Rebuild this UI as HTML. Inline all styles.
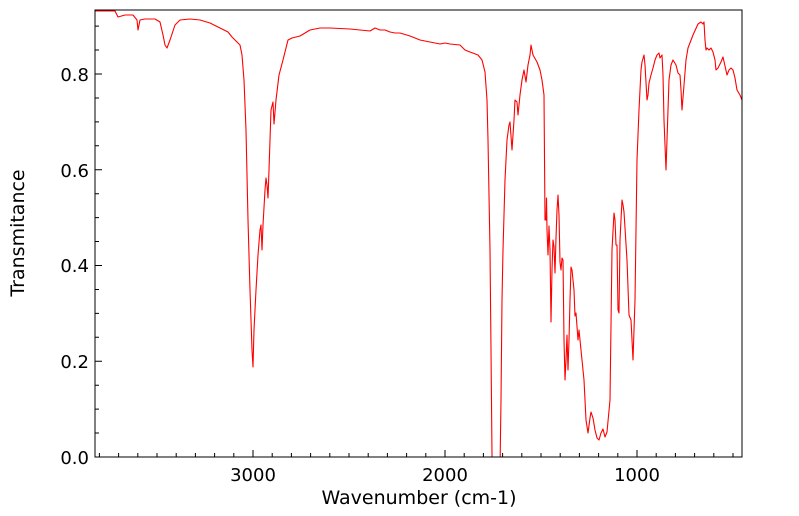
<!DOCTYPE html>
<html><head><style>body{margin:0;background:#fff}svg{display:block}</style></head><body>
<svg width="799" height="516" xmlns="http://www.w3.org/2000/svg" font-family="DejaVu Sans, Liberation Sans, sans-serif">
<rect x="0" y="0" width="799" height="516" fill="#fff"/>
<defs><clipPath id="c"><rect x="95" y="10" width="647" height="447"/></clipPath></defs>
<polyline clip-path="url(#c)" fill="none" stroke="#f00" stroke-width="1.1" stroke-linejoin="round" points="95,11 115,11 118,17 125,15 133,15 137,20 138,30 140,20 145,19 155,19 160,22 163,35 165,45 167,48 170,40 175,25 180,20 190,19 200,20 210,23 220,28 228,32 232,37 235,40 240,45 242,55 244,80 246,130 248,220 250,290 252,350 253,367 254,330 256,290 258,255 260,230 261,225 262,250 263,225 265,190 266,178 267,185 268,198 269,170 271,110 273,102 274,124 276,100 279,75 283,60 288,40 292,38 300,36 310,30 320,28 330,28 350,29 370,31 375,28 380,30 385,30 390,32 395,33 400,33 410,36 420,40 430,42 440,44 445,43 450,44 460,45 465,50 470,52 478,55 482,60 485,72 487,100 488,140 490,250 491,350 492,455 493,470 500,470 501,400 502,300 503,250 505,180 507,140 509,125 510,122 512,150 514,120 515,100 517,102 518,115 520,95 522,80 524,70 526,82 528,65 530,55 531,45 533,55 537,62 540,70 542,80 544,95 545,220 546,220 546.5,198 547,230 548,255 549,226 550,250 551,322 552,270 553,240 554,247 555,273 556,238 557,210 558,195 559,215 560,262 561,270 562,258 563,260 564,340 565,380 566,360 567,335 568,370 569,340 570,300 571,267 572,270 574,290 575,316 576,313 578,340 579,330 580,340 582,360 584,380 585,400 586,420 588,433 590,418 591,412 593,418 595,430 597,438 599,440 601,433 603,429 605,437 607,432 610,400 612,250 614,213 615,220 616,245 617,245 618,310 619,313 620,240 622,200 623,205 624,212 627,260 629,315 631,320 633,360 635,300 637,160 639,110 640,90 641,70 642,62 644,55 645,65 647,100 648,95 649,83 651,75 653,68 655,60 657,55 659,53 660,58 662,55 663,75 664,120 666,170 667,140 669,80 671,65 673,60 676,65 678,73 680,75 681,90 682,110 684,85 686,60 688,48 693,35 698,24 701,22 703,24 704,22 705,40 706,50 707,48 709,50 711,48 713,52 715,60 716,70 718,68 721,62 723,57 725,66 727,75 729,70 731,68 733,70 735,78 737,90 740,95 742,100"/>
<rect x="95" y="10" width="647" height="447" fill="none" stroke="#000" stroke-width="1"/>
<path stroke="#000" stroke-width="1" fill="none" d="
M95 457h7 M95 433.06h4 M95 409.13h4 M95 385.19h4 M95 361.25h7 M95 337.31h4 M95 313.38h4 M95 289.44h4 M95 265.5h7 M95 241.56h4 M95 217.63h4 M95 193.69h4 M95 169.75h7 M95 145.81h4 M95 121.88h4 M95 97.94h4 M95 74h7 M95 50.06h4 M95 26.13h4
M99.4 457v-4 M118.6 457v-4 M137.8 457v-4 M157 457v-4 M176.2 457v-4 M195.4 457v-4 M214.6 457v-4 M233.8 457v-4 M253 457v-7 M272.2 457v-4 M291.4 457v-4 M310.6 457v-4 M329.8 457v-4 M349 457v-4 M368.2 457v-4 M387.4 457v-4 M406.6 457v-4 M425.8 457v-4 M445 457v-7 M464.2 457v-4 M483.4 457v-4 M502.6 457v-4 M521.8 457v-4 M541 457v-4 M560.2 457v-4 M579.4 457v-4 M598.6 457v-4 M617.8 457v-4 M637 457v-7 M656.2 457v-4 M675.4 457v-4 M694.6 457v-4 M713.8 457v-4 M733 457v-4"/>
<g font-size="18" fill="#000">
<text x="89" y="464" text-anchor="end">0.0</text>
<text x="89" y="368" text-anchor="end">0.2</text>
<text x="89" y="272" text-anchor="end">0.4</text>
<text x="89" y="177" text-anchor="end">0.6</text>
<text x="89" y="81" text-anchor="end">0.8</text>
<text x="253" y="481" text-anchor="middle">3000</text>
<text x="445" y="481" text-anchor="middle">2000</text>
<text x="637" y="481" text-anchor="middle">1000</text>
<text x="419" y="504" text-anchor="middle" font-size="19">Wavenumber (cm-1)</text>
<text transform="translate(24,233) rotate(-90)" text-anchor="middle" font-size="19">Transmitance</text>
</g>
</svg>
</body></html>
